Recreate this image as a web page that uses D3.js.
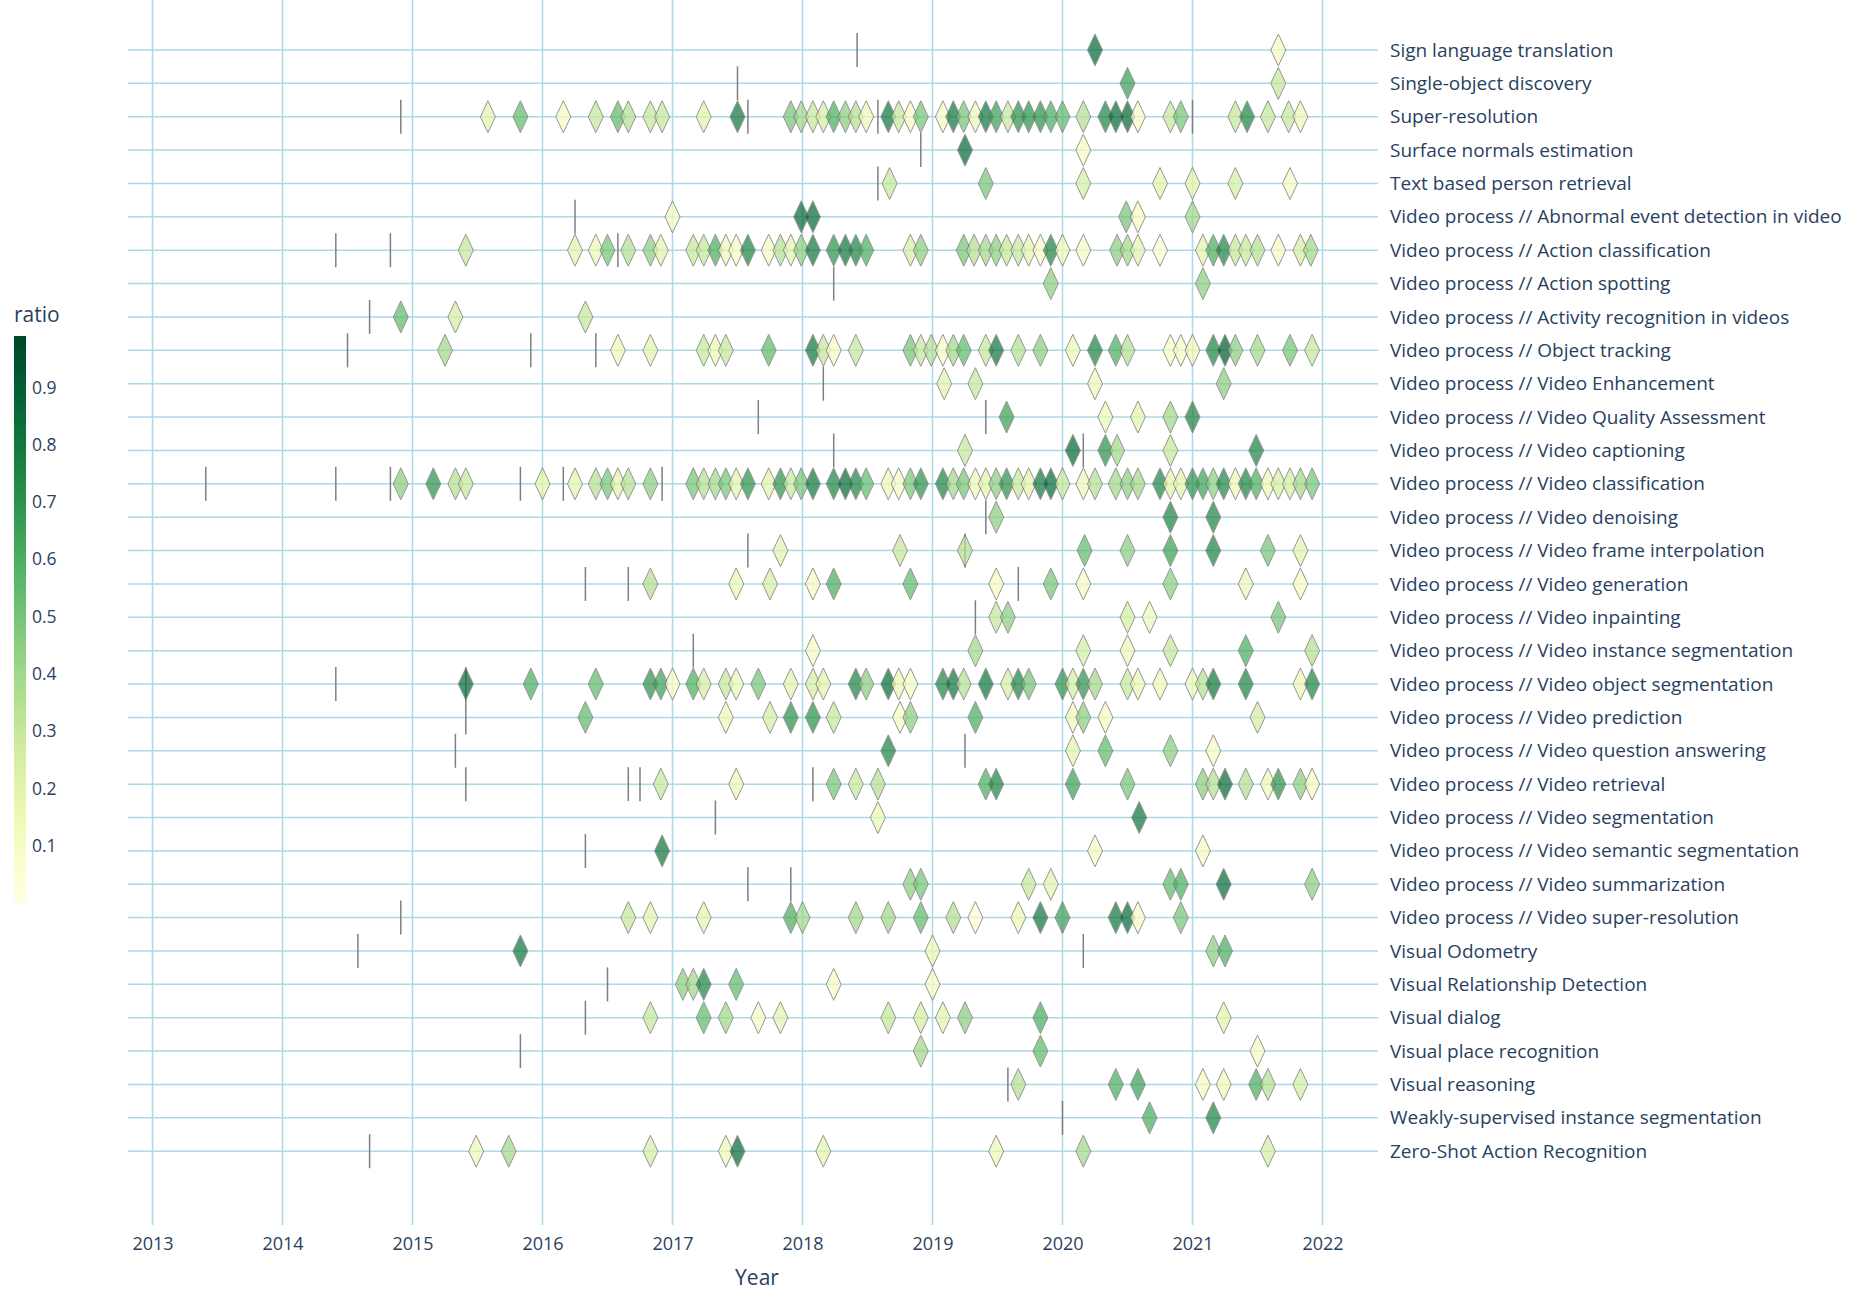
<!DOCTYPE html>
<html>
<head>
<meta charset="utf-8">
<script src="https://cdn.jsdelivr.net/npm/d3@7"></script>
<style>
  body { margin: 0; background: #fff; }
  text { font-family: "Open Sans", sans-serif; fill: #2a3f5f; }
</style>
</head>
<body>
<svg id="chart"></svg>
<script>
// task names, top to bottom
const tasks = [
  "Sign language translation",
  "Single-object discovery",
  "Super-resolution",
  "Surface normals estimation",
  "Text based person retrieval",
  "Video process // Abnormal event detection in video",
  "Video process // Action classification",
  "Video process // Action spotting",
  "Video process // Activity recognition in videos",
  "Video process // Object tracking",
  "Video process // Video Enhancement",
  "Video process // Video Quality Assessment",
  "Video process // Video captioning",
  "Video process // Video classification",
  "Video process // Video denoising",
  "Video process // Video frame interpolation",
  "Video process // Video generation",
  "Video process // Video inpainting",
  "Video process // Video instance segmentation",
  "Video process // Video object segmentation",
  "Video process // Video prediction",
  "Video process // Video question answering",
  "Video process // Video retrieval",
  "Video process // Video segmentation",
  "Video process // Video semantic segmentation",
  "Video process // Video summarization",
  "Video process // Video super-resolution",
  "Visual Odometry",
  "Visual Relationship Detection",
  "Visual dialog",
  "Visual place recognition",
  "Visual reasoning",
  "Weakly-supervised instance segmentation",
  "Zero-Shot Action Recognition"
];

const xTicks = [2013, 2014, 2015, 2016, 2017, 2018, 2019, 2020, 2021, 2022];
const ratioTicks = [0.1, 0.2, 0.3, 0.4, 0.5, 0.6, 0.7, 0.8, 0.9];

// diamond dates (decimal year), one list per task
const paperYears = [
  [2020.25, 2021.66],
  [2020.5, 2021.66],
  [2015.58, 2015.83, 2016.16, 2016.41, 2016.58, 2016.66, 2016.83, 2016.92, 2017.24, 2017.5, 2017.91, 2017.99, 2018.08, 2018.16, 2018.24, 2018.33, 2018.41, 2018.49, 2018.66, 2018.74, 2018.83, 2018.91, 2019.08, 2019.16, 2019.24, 2019.33, 2019.41, 2019.49, 2019.58, 2019.66, 2019.74, 2019.83, 2019.91, 2020.0, 2020.16, 2020.33, 2020.41, 2020.5, 2020.58, 2020.83, 2020.91, 2021.33, 2021.42, 2021.58, 2021.74, 2021.83],
  [2019.25, 2020.16],
  [2018.67, 2019.41, 2020.16, 2020.75, 2021.0, 2021.33, 2021.75],
  [2017.0, 2017.99, 2018.08, 2020.49, 2020.58, 2021.0],
  [2015.41, 2016.25, 2016.41, 2016.5, 2016.66, 2016.83, 2016.91, 2017.16, 2017.24, 2017.33, 2017.41, 2017.49, 2017.58, 2017.74, 2017.83, 2017.91, 2017.99, 2018.08, 2018.24, 2018.33, 2018.41, 2018.49, 2018.83, 2018.91, 2019.24, 2019.32, 2019.41, 2019.49, 2019.57, 2019.66, 2019.74, 2019.83, 2019.91, 2020.0, 2020.16, 2020.42, 2020.5, 2020.58, 2020.75, 2021.08, 2021.16, 2021.24, 2021.33, 2021.41, 2021.5, 2021.66, 2021.83, 2021.91],
  [2019.91, 2021.08],
  [2014.91, 2015.33, 2016.33],
  [2015.25, 2016.58, 2016.83, 2017.24, 2017.33, 2017.41, 2017.74, 2018.08, 2018.16, 2018.24, 2018.41, 2018.83, 2018.91, 2018.99, 2019.08, 2019.16, 2019.24, 2019.41, 2019.49, 2019.66, 2019.83, 2020.08, 2020.25, 2020.41, 2020.5, 2020.83, 2020.91, 2021.0, 2021.16, 2021.25, 2021.33, 2021.5, 2021.75, 2021.92],
  [2019.09, 2019.33, 2020.25, 2021.24],
  [2019.57, 2020.33, 2020.58, 2020.83, 2021.0],
  [2019.25, 2020.08, 2020.33, 2020.42, 2020.83, 2021.49],
  [2014.91, 2015.16, 2015.33, 2015.41, 2016.0, 2016.25, 2016.41, 2016.5, 2016.58, 2016.66, 2016.83, 2017.16, 2017.24, 2017.33, 2017.41, 2017.49, 2017.58, 2017.74, 2017.83, 2017.91, 2017.99, 2018.08, 2018.24, 2018.33, 2018.41, 2018.49, 2018.66, 2018.74, 2018.83, 2018.91, 2019.08, 2019.16, 2019.24, 2019.33, 2019.41, 2019.49, 2019.57, 2019.66, 2019.74, 2019.83, 2019.91, 2020.0, 2020.16, 2020.25, 2020.41, 2020.5, 2020.58, 2020.75, 2020.83, 2020.91, 2021.0, 2021.08, 2021.16, 2021.24, 2021.33, 2021.41, 2021.49, 2021.58, 2021.66, 2021.75, 2021.83, 2021.92],
  [2019.49, 2020.83, 2021.16],
  [2017.83, 2018.75, 2019.25, 2020.17, 2020.5, 2020.83, 2021.16, 2021.58, 2021.83],
  [2016.83, 2017.49, 2017.75, 2018.08, 2018.24, 2018.83, 2019.49, 2019.91, 2020.16, 2020.83, 2021.41, 2021.83],
  [2019.49, 2019.58, 2020.5, 2020.67, 2021.66],
  [2018.08, 2019.33, 2020.16, 2020.5, 2020.83, 2021.41, 2021.92],
  [2015.41, 2015.91, 2016.41, 2016.83, 2016.91, 2017.0, 2017.16, 2017.24, 2017.41, 2017.49, 2017.66, 2017.91, 2018.08, 2018.16, 2018.41, 2018.49, 2018.66, 2018.74, 2018.83, 2019.08, 2019.16, 2019.24, 2019.41, 2019.58, 2019.66, 2019.74, 2020.0, 2020.08, 2020.16, 2020.25, 2020.5, 2020.58, 2020.75, 2021.0, 2021.08, 2021.16, 2021.41, 2021.83, 2021.92],
  [2016.33, 2017.41, 2017.75, 2017.91, 2018.08, 2018.24, 2018.75, 2018.83, 2019.33, 2020.08, 2020.16, 2020.33, 2021.5],
  [2018.66, 2020.08, 2020.33, 2020.83, 2021.16],
  [2016.91, 2017.49, 2018.24, 2018.41, 2018.58, 2019.41, 2019.49, 2020.08, 2020.5, 2021.08, 2021.16, 2021.25, 2021.41, 2021.58, 2021.66, 2021.83, 2021.92],
  [2018.58, 2020.59],
  [2016.92, 2020.25, 2021.08],
  [2018.83, 2018.91, 2019.74, 2019.91, 2020.83, 2020.91, 2021.24, 2021.92],
  [2016.66, 2016.83, 2017.24, 2017.91, 2018.0, 2018.41, 2018.66, 2018.91, 2019.16, 2019.33, 2019.66, 2019.83, 2020.0, 2020.41, 2020.5, 2020.58, 2020.91],
  [2015.83, 2019.0, 2021.16, 2021.25],
  [2017.08, 2017.16, 2017.24, 2017.49, 2018.24, 2019.0],
  [2016.83, 2017.24, 2017.41, 2017.66, 2017.83, 2018.66, 2018.91, 2019.08, 2019.25, 2019.83, 2021.24],
  [2018.91, 2019.83, 2021.5],
  [2019.66, 2020.41, 2020.58, 2021.08, 2021.24, 2021.49, 2021.58, 2021.83],
  [2020.67, 2021.16],
  [2015.49, 2015.74, 2016.83, 2017.41, 2017.5, 2018.16, 2019.49, 2020.16, 2021.58]
];

// ratio of each diamond, same shape as paperYears
const paperRatios = [
  [0.85, 0.1],
  [0.65, 0.3],
  [0.2, 0.55, 0.1, 0.3, 0.55, 0.35, 0.3, 0.3, 0.2, 0.8, 0.5, 0.4, 0.3, 0.25, 0.6, 0.45, 0.35, 0.15, 0.8, 0.3, 0.1, 0.5, 0.1, 0.8, 0.5, 0.15, 0.8, 0.65, 0.3, 0.7, 0.7, 0.7, 0.6, 0.55, 0.35, 0.75, 0.85, 0.85, 0.1, 0.3, 0.5, 0.3, 0.75, 0.3, 0.3, 0.15],
  [0.85, 0.1],
  [0.3, 0.5, 0.25, 0.2, 0.2, 0.25, 0.1],
  [0.1, 0.85, 0.85, 0.5, 0.1, 0.4],
  [0.3, 0.2, 0.15, 0.5, 0.35, 0.45, 0.2, 0.3, 0.3, 0.6, 0.15, 0.1, 0.75, 0.1, 0.35, 0.2, 0.45, 0.8, 0.7, 0.8, 0.75, 0.6, 0.25, 0.45, 0.5, 0.35, 0.4, 0.45, 0.3, 0.3, 0.2, 0.1, 0.75, 0.15, 0.1, 0.45, 0.4, 0.2, 0.05, 0.2, 0.6, 0.75, 0.3, 0.3, 0.35, 0.1, 0.25, 0.4],
  [0.45, 0.45],
  [0.55, 0.25, 0.3],
  [0.4, 0.15, 0.2, 0.3, 0.15, 0.3, 0.55, 0.8, 0.3, 0.1, 0.3, 0.5, 0.3, 0.35, 0.1, 0.4, 0.55, 0.3, 0.8, 0.35, 0.45, 0.15, 0.75, 0.6, 0.35, 0.1, 0.1, 0.15, 0.75, 0.9, 0.45, 0.4, 0.5, 0.3],
  [0.2, 0.3, 0.15, 0.45],
  [0.65, 0.15, 0.2, 0.4, 0.75],
  [0.3, 0.85, 0.7, 0.4, 0.3, 0.75],
  [0.45, 0.7, 0.35, 0.3, 0.2, 0.2, 0.35, 0.5, 0.2, 0.35, 0.45, 0.5, 0.35, 0.4, 0.5, 0.2, 0.7, 0.2, 0.7, 0.3, 0.5, 0.8, 0.75, 0.85, 0.75, 0.55, 0.15, 0.1, 0.5, 0.7, 0.75, 0.4, 0.5, 0.15, 0.2, 0.45, 0.7, 0.3, 0.2, 0.8, 0.85, 0.3, 0.15, 0.35, 0.4, 0.45, 0.4, 0.75, 0.2, 0.2, 0.7, 0.65, 0.45, 0.75, 0.15, 0.75, 0.6, 0.15, 0.25, 0.25, 0.4, 0.5],
  [0.45, 0.75, 0.75],
  [0.2, 0.3, 0.35, 0.55, 0.45, 0.65, 0.75, 0.5, 0.2],
  [0.35, 0.15, 0.25, 0.1, 0.6, 0.55, 0.1, 0.5, 0.1, 0.45, 0.15, 0.1],
  [0.3, 0.45, 0.25, 0.15, 0.5],
  [0.1, 0.4, 0.25, 0.15, 0.3, 0.6, 0.35],
  [0.85, 0.6, 0.55, 0.7, 0.65, 0.1, 0.6, 0.25, 0.3, 0.15, 0.5, 0.2, 0.25, 0.2, 0.75, 0.45, 0.85, 0.15, 0.1, 0.75, 0.8, 0.35, 0.8, 0.25, 0.75, 0.5, 0.7, 0.25, 0.7, 0.4, 0.3, 0.15, 0.15, 0.15, 0.35, 0.8, 0.75, 0.15, 0.75],
  [0.55, 0.15, 0.25, 0.7, 0.7, 0.3, 0.1, 0.45, 0.6, 0.15, 0.45, 0.1, 0.25],
  [0.75, 0.2, 0.55, 0.45, 0.1],
  [0.3, 0.15, 0.5, 0.3, 0.35, 0.6, 0.75, 0.65, 0.5, 0.45, 0.35, 0.85, 0.35, 0.15, 0.7, 0.45, 0.1],
  [0.15, 0.8],
  [0.8, 0.1, 0.1],
  [0.45, 0.5, 0.3, 0.2, 0.55, 0.6, 0.85, 0.45],
  [0.3, 0.2, 0.2, 0.6, 0.4, 0.4, 0.4, 0.55, 0.35, 0.05, 0.15, 0.8, 0.65, 0.8, 0.85, 0.1, 0.5],
  [0.8, 0.15, 0.45, 0.6],
  [0.45, 0.4, 0.75, 0.55, 0.1, 0.1],
  [0.3, 0.55, 0.4, 0.1, 0.2, 0.3, 0.25, 0.2, 0.45, 0.6, 0.2],
  [0.4, 0.55, 0.1],
  [0.35, 0.6, 0.65, 0.1, 0.15, 0.6, 0.35, 0.25],
  [0.6, 0.75],
  [0.15, 0.4, 0.25, 0.15, 0.85, 0.2, 0.15, 0.4, 0.25]
];

// grey tick marks per task
const markYears = [
  [2018.42], [2017.5], [2014.91, 2017.58, 2018.58, 2021.0], [2018.91], [2018.58],
  [2016.25], [2014.41, 2014.83, 2016.58], [2018.24], [2014.67], [2014.5, 2015.91, 2016.41],
  [2018.16], [2017.66, 2019.41], [2018.24, 2020.16],
  [2013.41, 2014.41, 2014.83, 2015.83, 2016.16, 2016.92],
  [2019.41], [2017.58, 2019.25], [2016.33, 2016.66, 2019.66], [2019.33], [2017.16],
  [2014.41, 2015.41], [2015.41], [2015.33, 2019.25], [2015.41, 2016.66, 2016.75, 2018.08],
  [2017.33], [2016.33], [2017.58, 2017.91], [2014.91], [2014.58, 2020.16], [2016.5],
  [2016.33], [2015.83], [2019.58], [2020.0], [2014.67]
];

const width = 1863, height = 1291;
const plotLeft = 128, plotRight = 1378, plotTop = 0, plotBottom = 1225;

const svg = d3.select("#chart").attr("width", width).attr("height", height);

const x = d3.scaleLinear().domain([2013, 2022]).range([152.5, 1322.5]);
const y = d3.scalePoint().domain(tasks).range([50, 50 + 33.37 * (tasks.length - 1)]);
const color = d3.scaleSequential(d3.interpolateYlGn).domain([0, 0.99]);

// grid
svg.append("g")
  .selectAll("line")
  .data(xTicks)
  .join("line")
  .attr("x1", d => x(d)).attr("x2", d => x(d))
  .attr("y1", plotTop).attr("y2", plotBottom)
  .attr("stroke", "#add8e6").attr("stroke-width", 1.5);

svg.append("g")
  .selectAll("line")
  .data(tasks)
  .join("line")
  .attr("x1", plotLeft).attr("x2", plotRight)
  .attr("y1", d => y(d)).attr("y2", d => y(d))
  .attr("stroke", "#add8e6").attr("stroke-width", 1.5);

// x axis
const xAxis = d3.axisBottom(x).tickValues(xTicks).tickFormat(d3.format("d")).tickSize(0).tickPadding(8);
const gx = svg.append("g").attr("transform", `translate(0,${plotBottom + 4})`).call(xAxis);
gx.select(".domain").remove();
gx.selectAll("text").style("font-size", "18px").attr("fill", "#2a3f5f");

svg.append("text")
  .attr("x", (plotLeft + plotRight) / 2 + 4)
  .attr("y", 1285)
  .attr("text-anchor", "middle")
  .style("font-size", "21px")
  .text("Year");

// task labels on the right
const yAxis = d3.axisRight(y).tickSize(0).tickPadding(12);
const gy = svg.append("g").attr("transform", `translate(${plotRight},0)`).call(yAxis);
gy.select(".domain").remove();
gy.selectAll("text").style("font-size", "19px").attr("fill", "#2a3f5f");

// grey marks
const marks = [];
markYears.forEach((ys, i) => ys.forEach(v => marks.push({task: tasks[i], year: v})));
svg.append("g")
  .selectAll("line")
  .data(marks)
  .join("line")
  .attr("x1", d => x(d.year)).attr("x2", d => x(d.year))
  .attr("y1", d => y(d.task) - 17).attr("y2", d => y(d.task) + 17)
  .attr("stroke", "#7f7f7f").attr("stroke-width", 1.5);

// diamonds
const papers = [];
paperYears.forEach((ys, i) => ys.forEach((v, j) => papers.push({task: tasks[i], year: v, ratio: paperRatios[i][j]})));
svg.append("g")
  .selectAll("path")
  .data(papers)
  .join("path")
  .attr("transform", d => `translate(${x(d.year)},${y(d.task)})`)
  .attr("d", "M0,-16L7.5,0L0,16L-7.5,0Z")
  .attr("fill", d => color(d.ratio))
  .attr("stroke", "#6f6f6f")
  .attr("stroke-width", 1)
  .attr("opacity", 0.72);

// colorbar
const cbTop = 336, cbBottom = 903, cbX = 14, cbW = 12;
const cy = d3.scaleLinear().domain([0, 0.99]).range([cbBottom, cbTop]);
const defs = svg.append("defs");
const grad = defs.append("linearGradient").attr("id", "cb").attr("x1", 0).attr("y1", 1).attr("x2", 0).attr("y2", 0);
d3.range(0, 1.001, 0.05).forEach(t => {
  grad.append("stop").attr("offset", t).attr("stop-color", color(t * 0.99));
});
svg.append("rect")
  .attr("x", cbX).attr("y", cbTop)
  .attr("width", cbW).attr("height", cbBottom - cbTop)
  .attr("fill", "url(#cb)");

const cAxis = d3.axisRight(cy).tickValues(ratioTicks).tickFormat(d3.format(".1f")).tickSize(0).tickPadding(6);
const gc = svg.append("g").attr("transform", `translate(${cbX + cbW},0)`).call(cAxis);
gc.select(".domain").remove();
gc.selectAll("text").style("font-size", "17.5px").attr("fill", "#2a3f5f");

svg.append("text")
  .attr("x", cbX)
  .attr("y", 322)
  .style("font-size", "21px")
  .text("ratio");
</script>
</body>
</html>
